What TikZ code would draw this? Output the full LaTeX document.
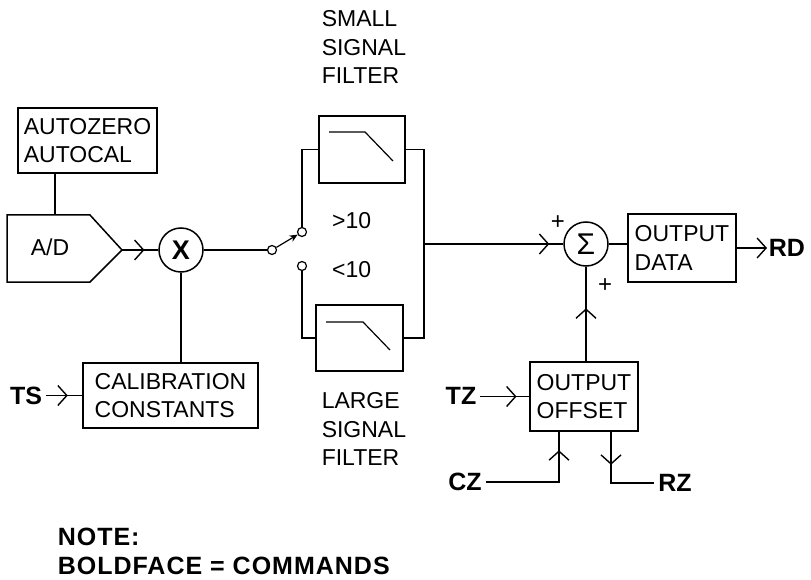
\documentclass[tikz,border=0pt]{standalone}
\usepackage{fontspec}
\setmainfont{Liberation Sans}
\usetikzlibrary{arrows.meta,decorations.markings}
\tikzset{barb/.tip={Straight Barb[length=9pt,width=20pt,line width=1.4pt]}}
\begin{document}
\begin{tikzpicture}[x=1pt,y=-1pt,line width=1.5pt,
  txt/.style={font=\fontsize{23}{28.5}\selectfont},
  cmd/.style={font=\fontsize{25}{30}\selectfont\bfseries},
  box/.style={draw,rectangle,inner sep=0pt,align=left,txt},
  chev/.style={postaction={decorate},decoration={markings,mark=at position #1 with {\arrow{barb}}}},
  port/.style={draw,circle,inner sep=0pt,minimum size=9pt,fill=white,line width=1.2pt},
  junction/.style={draw,circle,inner sep=0pt,minimum size=44pt},
  sign/.style={font=\fontsize{24}{24}\selectfont,inner sep=0pt},
  caption/.style={txt,anchor=north west,inner sep=0pt,align=left}]
\useasboundingbox (0,0) rectangle (811,580);

% A/D converter
\draw (7,215) -- (90,215) -- (122,250) -- (90,282) -- (7,282) -- cycle;
\node[txt] (ad) at (50,247) {A/D};
\coordinate (adout) at (122,250);
\coordinate (adin) at (55,215);

% Autozero / autocal
\node[box,minimum width=139pt,minimum height=65pt] (autoz) at (87.5,140.5) {AUTOZERO\\AUTOCAL};
\draw (autoz.south -| adin) -- (adin);

% multiplier
\node[junction,font=\fontsize{27}{27}\selectfont\bfseries] (mult) at (181,250) {X};
\draw[chev=0.62] (adout) -- (mult.west);

% calibration constants
\node[box,minimum width=175pt,minimum height=65pt] (calib) at (170.5,395.5) {CALIBRATION\\CONSTANTS};
\draw (mult.south) -- (mult.south |- calib.north);
\node[cmd] (ts) at (26,396) {TS};
\draw[chev=0.6] (calib.west -| ts.east) -- (calib.west);

% switch
\node[port] (sw1) at (272,250) {};
\node[port] (swA) at (302,232) {};
\node[port] (swB) at (302,266) {};
\draw (mult.east) -- (sw1);
\draw[-{Stealth[length=8pt,width=7pt]},line width=1.2pt] (sw1) -- (swA);
\node[txt,anchor=base west] (gt) at (328,229) {>10};
\node[txt,anchor=base west] (lt) at (328,277) {<10};

% filters
\node[box,minimum width=86pt,minimum height=67pt] (filtS) at (362,149.5) {};
\node[box,minimum width=87pt,minimum height=66pt] (filtL) at (359.5,338) {};
\draw[line width=1.2pt] (329,132) -- (365,132) -- (393,161);
\draw[line width=1.2pt] (326,322) -- (363,322) -- (390,350);
\node[caption] (capS) at (321,10) {SMALL\\SIGNAL\\FILTER};
\node[caption] (capL) at (321,392) {LARGE\\SIGNAL\\FILTER};
\draw (swA) |- (filtS.west);
\draw (swB) |- (filtL.west);
\coordinate (junc) at (424,244);
\draw (filtS.east) -| (junc) |- (filtL.east);

% summing junction
\node[junction,font=\fontsize{30}{30}\selectfont] (sum) at (586,244) {Σ};
\draw[chev=0.9] (junc) -- (sum.west);
\node[sign] (plusA) at (558,223) {+};
\node[sign] (plusB) at (605,286) {+};

% output data
\node[box,minimum width=108pt,minimum height=68pt] (odata) at (682,248) {OUTPUT\\DATA};
\draw (sum.east) -- (sum.east -| odata.west);
\node[cmd,anchor=west,inner sep=1pt] (rd) at (767,248) {RD};
\draw[-{barb}] (odata.east) -- (rd.west);

% output offset
\node[box,minimum width=108pt,minimum height=69pt] (ooffset) at (584,396.5) {OUTPUT\\OFFSET};
\draw[chev=0.56] (ooffset.north -| sum.south) -- (sum.south);
\node[cmd] (tz) at (461,396) {TZ};
\draw[chev=0.74] (ooffset.west -| tz.east) -- (ooffset.west);
\node[cmd] (cz) at (465,482) {CZ};
\draw[chev=0.85] (cz.east) -| ([xshift=-25pt]ooffset.south);
\node[cmd] (rz) at (675,483) {RZ};
\draw[chev=0.35] ([xshift=27pt]ooffset.south) |- (rz.west);

% note
\node[cmd,anchor=north west,inner sep=0pt,align=left,font=\fontsize{25}{29}\selectfont\bfseries\addfontfeature{LetterSpace=4}] (note) at (57,527) {NOTE:\\BOLDFACE = COMMANDS};
\end{tikzpicture}
\end{document}
